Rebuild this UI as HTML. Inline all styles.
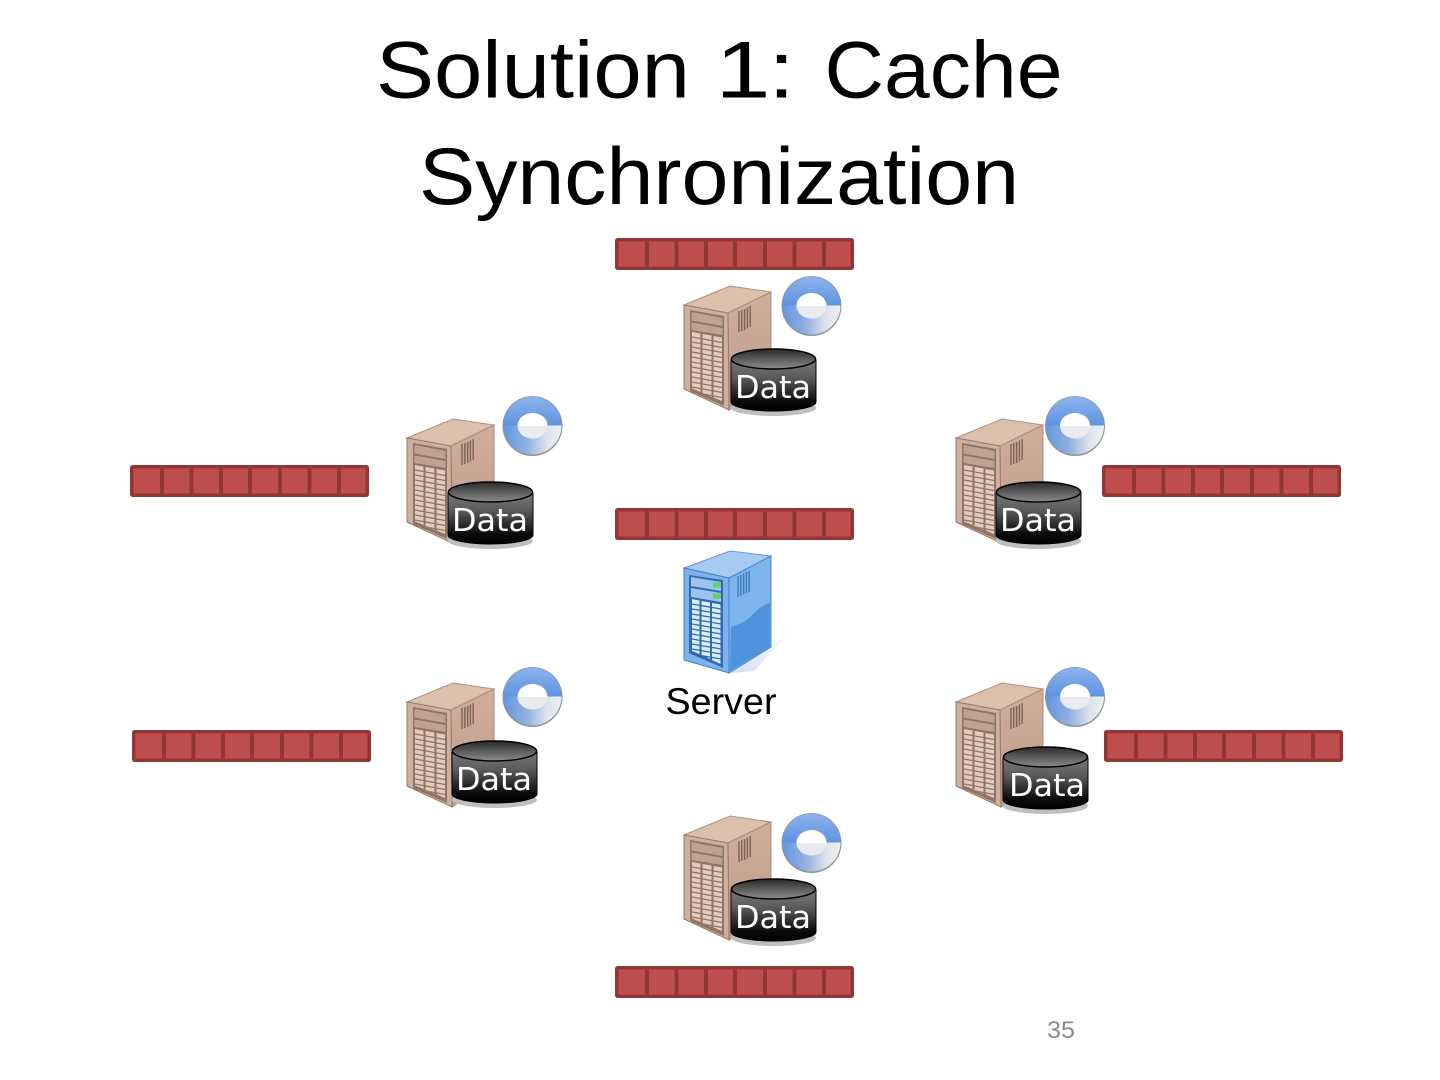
<!DOCTYPE html>
<html><head><meta charset="utf-8"><title>Solution 1: Cache Synchronization</title>
<style>html,body{margin:0;padding:0;background:#fff}svg{display:block}</style></head>
<body>
<svg xmlns="http://www.w3.org/2000/svg" width="1440" height="1080" viewBox="0 0 1440 1080">
<defs>
<linearGradient id="cyl" x1="0" y1="0" x2="0" y2="1"><stop offset="0" stop-color="#7a7a7a"/><stop offset=".35" stop-color="#5a5a5a"/><stop offset=".8" stop-color="#0c0c0c"/><stop offset="1" stop-color="#000"/></linearGradient>
<linearGradient id="cyltop" x1="0" y1="0" x2="0" y2="1"><stop offset="0" stop-color="#2a2a2a"/><stop offset="1" stop-color="#8c8c8c"/></linearGradient>
<linearGradient id="tan" x1="0" y1="0" x2="0" y2="1"><stop offset="0" stop-color="#d0ad9c"/><stop offset="1" stop-color="#c09c8b"/></linearGradient>
<linearGradient id="ringup" x1="0" y1="0" x2="0" y2="1"><stop offset="0" stop-color="#8db3ec"/><stop offset="1" stop-color="#5f93e2"/></linearGradient>
<linearGradient id="ringlow" x1="0" y1="0" x2="1" y2="0"><stop offset="0" stop-color="#6497e2"/><stop offset=".4" stop-color="#8fb0e0"/><stop offset=".75" stop-color="#dfe3ea"/><stop offset="1" stop-color="#eef0f2"/></linearGradient>
<linearGradient id="sshadow" x1="0" y1="1" x2="1" y2="0"><stop offset="0" stop-color="#d5ddf5"/><stop offset="1" stop-color="#fff"/></linearGradient>

<g id="q">
<rect x="1.750" y="1.750" width="235.500" height="28.500" rx="1" fill="#bf4f4e" stroke="#943634" stroke-width="3.500"/>
<path d="M32 2V30M61.500 2V30M91 2V30M120 2V30M150 2V30M179.500 2V30M209 2V30" stroke="#943634" stroke-width="4"/>
</g>

<g id="t">
<path d="M0 19 L46 0 L87 6 L44 27Z" fill="#dcc0ae" stroke="#b0907f" stroke-width="1"/>
<path d="M44 27 L87 6 L87 95 L45 124Z" fill="url(#tan)" stroke="#ab8b7a" stroke-width="1"/>
<path d="M0 19 L44 27 L45 124 L0 103Z" fill="#cfaf9f" stroke="#97786a" stroke-width="1"/>
<path d="M6 24 L40 30 L40 120 L6 105Z" fill="#8f7566"/>
<path d="M7.500 26 L38.500 32 L38.500 40 L7.500 34.500Z" fill="#bfa293"/>
<path d="M7.500 36.500 L38.500 42 L38.500 49 L7.500 44Z" fill="#bfa293"/>
<path d="M8 46 L16.500 47.500 L16.500 106 L8 102.500ZM18.500 48 L27.500 49.500 L27.500 111 L18.500 107ZM29.500 50 L38 51.500 L38 115 L29.500 111.500Z" fill="#e3ccbe"/>
<path d="M8 51L38 56.500M8 56L38 61.500M8 61L38 66.500M8 66L38 71.500M8 71L38 76.500M8 76L38 81.500M8 81L38 86.500M8 86L38 91.500M8 91L38 96.500M8 96L38 101.500M8 101L38 106.500M8 106L38 111.500" stroke="#8f7566" stroke-width="1.300"/>
<path d="M55 25V46M57.800 24V45M60.600 23V44M63.400 21.500V42.500M66.200 20V41" stroke="#7a6356" stroke-width="1.400"/>
</g>

<g id="s">
<path d="M46 122 L87 96 L108 78 L70 120Z" fill="url(#sshadow)"/>
<path d="M0 17 L46 0 L87 5 L45 27Z" fill="#a6caf2" stroke="#6199da" stroke-width="1"/>
<path d="M45 27 L87 5 L87 96 L45 122Z" fill="#7db4ec" stroke="#4a86d2" stroke-width="1"/>
<path d="M47 76 Q62 72 70 62 Q78 54 86 52 L86 96 L46 120Z" fill="#4f93dc"/>
<path d="M0 17 L45 27 L45 122 L0 109Z" fill="#7fb2ea" stroke="#3f7fce" stroke-width="1"/>
<path d="M5 24 L39 29 L39 117 L5 102Z" fill="#2f6cb0"/>
<path d="M7 26 L37 31 L37 40 L7 35Z" fill="#9cc4ee"/>
<path d="M7 37 L37 42 L37 51 L7 46Z" fill="#9cc4ee"/>
<path d="M29 31.500h8v5h-8zM29 42.500h8v5h-8z" fill="#5fd06a"/>
<path d="M8 48 L15.500 49.500 L15.500 103 L8 100ZM17.500 50 L26 51.500 L26 108 L17.500 104ZM28 52 L36.500 53.500 L36.500 113 L28 109Z" fill="#dcebfb"/>
<path d="M8 53L37 58M8 58L37 63M8 63L37 68M8 68L37 73M8 73L37 78M8 78L37 83M8 83L37 88M8 88L37 93M8 93L37 98M8 98L37 103M8 103L37 108" stroke="#2f6cb0" stroke-width="1.300"/>
<path d="M54 25V46M56.800 24V45M59.600 22.500V43.500M62.400 21V42M65.200 20V41" stroke="#3f78bd" stroke-width="1.400"/>
</g>

<g id="r">
<circle cx="0" cy="0.500" r="30" fill="#8f9297"/>
<path d="M-29 0 A29 29 0 0 0 29 0Z" fill="url(#ringlow)"/>
<path d="M-29 0 A29 29 0 0 1 29 0Z" fill="url(#ringup)"/>
<ellipse cx="0" cy="0" rx="15" ry="12.500" fill="#fff"/>
<path d="M-15 0.500 A15 12.500 0 0 0 15 0.500Z" fill="#e9ebee"/>
</g>

<g id="c">
<ellipse cx="42.500" cy="60" rx="42.500" ry="8" fill="#bcc0c2"/>
<path d="M0 12 V54 A42.500 9 0 0 0 85 54 V12Z" fill="url(#cyl)" stroke="#000" stroke-width="1"/>
<ellipse cx="42.500" cy="11" rx="42" ry="10" fill="url(#cyltop)" stroke="#000" stroke-width="1.500"/>
</g>
</defs>

<g font-family="'Liberation Sans',sans-serif" font-size="81" fill="#000">
<text x="376" y="97.500" textLength="314" lengthAdjust="spacingAndGlyphs">Solution</text>
<text x="715.500" y="97.500" textLength="55" lengthAdjust="spacingAndGlyphs">1</text>
<text x="768" y="97.500" textLength="27" lengthAdjust="spacingAndGlyphs">:</text>
<text x="824.500" y="97.500" textLength="238" lengthAdjust="spacingAndGlyphs">Cache</text>
<text x="419" y="204" textLength="600" lengthAdjust="spacingAndGlyphs">Synchronization</text>
</g>

<use href="#q" x="615" y="238"/>
<use href="#q" x="130" y="465"/>
<use href="#q" x="1102" y="465"/>
<use href="#q" x="615" y="508"/>
<use href="#q" x="132" y="730"/>
<use href="#q" x="1104" y="730"/>
<use href="#q" x="615" y="966"/>

<use href="#t" x="684" y="286"/>
<use href="#t" x="407" y="419"/>
<use href="#t" x="956" y="419"/>
<use href="#t" x="407" y="683"/>
<use href="#t" x="956" y="683"/>
<use href="#t" x="684" y="816"/>
<use href="#s" x="684" y="551"/>

<use href="#r" x="811.500" y="305.500"/>
<use href="#r" x="532.500" y="425.500"/>
<use href="#r" x="1075" y="425.500"/>
<use href="#r" x="532.500" y="696.500"/>
<use href="#r" x="1075" y="696.500"/>
<use href="#r" x="811.500" y="842.500"/>

<use href="#c" x="731" y="348"/>
<use href="#c" x="448" y="481"/>
<use href="#c" x="996" y="481"/>
<use href="#c" x="452" y="740"/>
<use href="#c" x="1003" y="746"/>
<use href="#c" x="731" y="878"/>

<g font-family="'DejaVu Sans',sans-serif" font-size="31" fill="#fff">
<text x="735" y="398" textLength="76" lengthAdjust="spacingAndGlyphs">Data</text>
<text x="452" y="531" textLength="76" lengthAdjust="spacingAndGlyphs">Data</text>
<text x="1000" y="531" textLength="76" lengthAdjust="spacingAndGlyphs">Data</text>
<text x="456" y="790" textLength="76" lengthAdjust="spacingAndGlyphs">Data</text>
<text x="1009" y="796" textLength="76" lengthAdjust="spacingAndGlyphs">Data</text>
<text x="735" y="928" textLength="76" lengthAdjust="spacingAndGlyphs">Data</text>
</g>

<text x="665.500" y="714" font-family="'Liberation Sans',sans-serif" font-size="37" textLength="111" lengthAdjust="spacingAndGlyphs" fill="#000">Server</text>
<text x="1047" y="1038" font-family="'Liberation Sans',sans-serif" font-size="24" textLength="28" lengthAdjust="spacingAndGlyphs" fill="#8b8b8b">35</text>
</svg>
</body></html>
